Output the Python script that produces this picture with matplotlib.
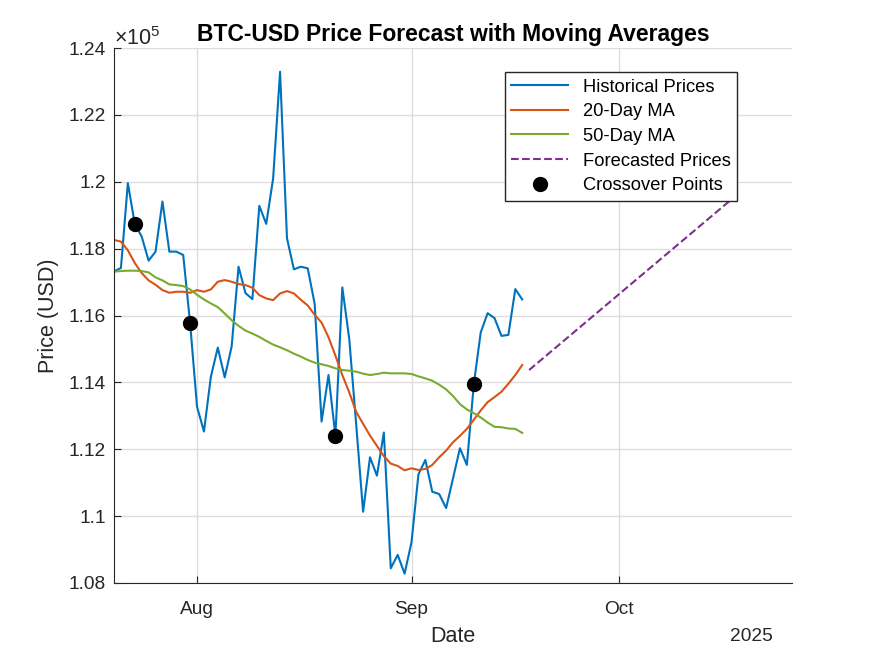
import matplotlib
matplotlib.use('Agg')
import matplotlib.pyplot as plt
import matplotlib.dates as mdates
from matplotlib.ticker import FuncFormatter
import pandas as pd

plt.rcParams['font.family'] = ['Liberation Sans', 'DejaVu Sans']
plt.rcParams['mathtext.fontset'] = 'custom'
plt.rcParams['mathtext.rm'] = 'Liberation Sans'

# daily closes, 20 Jul - 17 Sep 2025
hist_start = '2025-07-20'
hist_prices = [117320, 117420, 119960, 118740, 118360, 117640, 117910, 119410, 117910, 117910,
               117810, 115770, 113270, 112530, 114170, 115040, 114150, 115070, 117460, 116670,
               116490, 119280, 118740, 120100, 123290, 118310, 117380, 117460, 117410, 116350,
               112830, 114220, 112400, 116840, 115300, 112750, 110130, 111760, 111210, 112500,
               108440, 108840, 108280, 109220, 111250, 111680, 110730, 110660, 110240, 111130,
               112030, 111530, 113940, 115490, 116070, 115920, 115390, 115420, 116790, 116480]
ma20 = [118260, 118210, 117950, 117570, 117270, 117050, 116920, 116760, 116680, 116710,
        116710, 116680, 116760, 116710, 116780, 117010, 117060, 117010, 116940, 116910,
        116830, 116610, 116510, 116460, 116660, 116730, 116660, 116470, 116300, 116020,
        115790, 115350, 114800, 114220, 113700, 113120, 112760, 112410, 112100, 111790,
        111570, 111500, 111370, 111430, 111380, 111410, 111530, 111760, 111960, 112210,
        112400, 112610, 112880, 113160, 113410, 113560, 113720, 113960, 114220, 114520]
ma50 = [117310, 117330, 117340, 117340, 117330, 117290, 117140, 117050, 116930, 116910,
        116880, 116780, 116620, 116480, 116360, 116250, 116060, 115860, 115690, 115550,
        115460, 115360, 115240, 115130, 115050, 114960, 114860, 114770, 114670, 114590,
        114540, 114490, 114420, 114370, 114350, 114320, 114260, 114220, 114250, 114290,
        114270, 114270, 114270, 114250, 114180, 114120, 114050, 113930, 113790, 113590,
        113350, 113190, 113080, 112950, 112800, 112670, 112660, 112620, 112610, 112490]

# forecast, 18 Sep - 17 Oct 2025
fc_start = '2025-09-18'
fc_prices = [114370, 114545, 114719, 114894, 115068, 115243, 115417, 115592, 115766, 115941,
             116115, 116290, 116464, 116639, 116813, 116988, 117162, 117337, 117511, 117686,
             117860, 118035, 118209, 118384, 118558, 118733, 118907, 119082, 119256, 119431]

# indices of 20/50 crossovers in the historical series
cross_idx = [3, 11, 32, 52]

hist_dates = pd.date_range(hist_start, periods=len(hist_prices), freq='D')
fc_dates = pd.date_range(fc_start, periods=len(fc_prices), freq='D')
cross_dates = [hist_dates[i] for i in cross_idx]
cross_vals = [hist_prices[i] for i in cross_idx]

fig = plt.figure(figsize=(8.75, 6.56), dpi=100)
ax = fig.add_axes([0.1303, 0.1113, 0.7749, 0.8155])

ax.plot(hist_dates, hist_prices, color='#0072BD', lw=1.5, label='Historical Prices')
ax.plot(hist_dates, ma20, color='#D95319', lw=1.5, label='20-Day MA')
ax.plot(hist_dates, ma50, color='#77AC30', lw=1.5, label='50-Day MA')
ax.plot(fc_dates, fc_prices, color='#7E2F8E', lw=1.5, ls='--', label='Forecasted Prices')
ax.plot(cross_dates, cross_vals, 'o', color='black', ms=10, label='Crossover Points')

ax.set_xlim(pd.Timestamp('2025-07-20'), pd.Timestamp('2025-10-26'))
ax.set_ylim(108000, 124000)
ax.set_yticks(range(108000, 124001, 2000))
ax.yaxis.set_major_formatter(FuncFormatter(lambda v, p: '%g' % round(v / 1e5, 4)))
ax.xaxis.set_major_locator(mdates.MonthLocator())
ax.xaxis.set_major_formatter(mdates.DateFormatter('%b'))

ax.grid(True, color='#dedede', lw=1)
ax.set_axisbelow(True)
for s in ['top', 'right']:
    ax.spines[s].set_visible(False)
for s in ['left', 'bottom']:
    ax.spines[s].set_color('#262626')
ax.tick_params(direction='in', length=5, labelsize=13.8, colors='#262626')
ax.tick_params(axis='x', pad=13)
ax.tick_params(axis='y', pad=6)

ax.text(0.0, 0.996, r'$\times 10^{5}$', transform=ax.transAxes, fontsize=15.5,
        color='#262626', ha='left', va='bottom')
ax.text(0.94, -0.084, '2025', transform=ax.transAxes, fontsize=13.8,
        color='#262626', ha='center', va='top')

ax.set_title('BTC-USD Price Forecast with Moving Averages', fontsize=16.5,
             fontweight='bold', pad=5)
ax.set_xlabel('Date', fontsize=15.5, color='#262626', labelpad=6)
ax.set_ylabel('Price (USD)', fontsize=15.5, color='#262626', labelpad=7)

leg = ax.legend(loc='upper right', bbox_to_anchor=(0.919, 0.955), fontsize=13.2,
                handlelength=3.1, numpoints=1, fancybox=False, framealpha=1,
                borderpad=0.35, labelspacing=0.42, handletextpad=0.8, borderaxespad=0)
leg.get_frame().set_edgecolor('#262626')
leg.get_frame().set_linewidth(1)

fig.savefig('out.png', dpi=100)
